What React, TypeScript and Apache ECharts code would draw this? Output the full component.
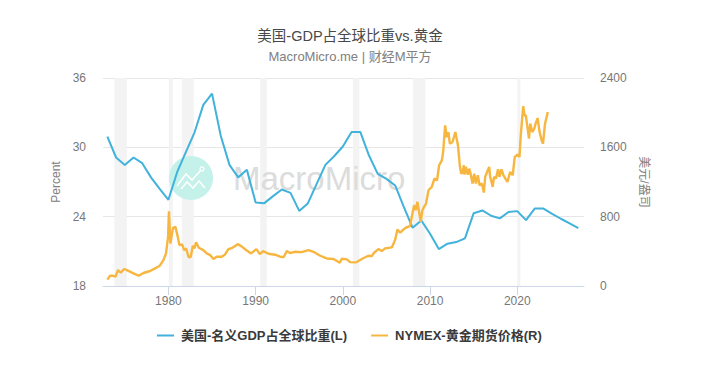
import React, { useEffect, useRef } from "react";
import * as echarts from "echarts";

const titleText = "美国-GDP占全球比重vs.黄金";
const subtitleText = "MacroMicro.me | 财经M平方";
const shareName = "美国-名义GDP占全球比重(L)";
const goldName = "NYMEX-黄金期货价格(R)";
const xTicks = [1980, 1990, 2000, 2010, 2020];

const shareYears = [1973,1974,1975,1976,1977,1978,1979,1980,1981,1982,1983,1984,1985,1986,1987,1988,1989,1990,1991,1992,1993,1994,1995,1996,1997,1998,1999,2000,2001,2002,2003,2004,2005,2006,2007,2008,2009,2010,2011,2012,2013,2014,2015,2016,2017,2018,2019,2020,2021,2022,2023,2024,2025,2026,2027];
const shareValues = [30.93,29.12,28.48,29.12,28.63,27.4,26.4,25.46,27.85,29.58,31.3,33.67,34.65,31.0,28.48,27.4,28.05,25.23,25.17,25.78,26.35,26.06,24.5,25.17,26.84,28.48,29.23,30.07,31.33,31.33,29.29,27.7,27.27,26.7,24.83,23.04,23.67,22.52,21.2,21.66,21.8,22.12,24.3,24.54,24.08,23.85,24.4,24.48,23.7,24.7,24.7,24.25,23.82,23.41,23.0];

const goldYears = [1973,1973.31,1973.62,1973.92,1974.23,1974.53,1974.92,1975.3,1975.99,1976.6,1977.13,1977.9,1978.47,1978.97,1979.43,1979.73,1979.96,1980.06,1980.23,1980.38,1980.54,1980.8,1981.03,1981.26,1981.57,1981.8,1982.03,1982.33,1982.56,1982.8,1982.98,1983.17,1983.48,1984.01,1984.4,1984.78,1985.16,1985.54,1986.12,1986.5,1986.88,1987.34,1987.95,1988.49,1988.87,1989.48,1990.09,1990.48,1990.86,1991.47,1992.23,1992.81,1993.23,1993.57,1993.92,1994.53,1995.29,1996.06,1996.63,1997.4,1998.16,1998.93,1999.65,1999.88,2000.46,2000.83,2001.34,2001.6,2001.98,2002.44,2002.93,2003.32,2003.58,2004.08,2004.47,2004.85,2005.61,2005.99,2006.26,2006.57,2006.87,2007.25,2007.71,2007.98,2008.17,2008.36,2008.55,2008.74,2008.93,2009.12,2009.31,2009.54,2009.82,2010.2,2010.5,2010.8,2011.04,2011.35,2011.5,2011.73,2011.9,2012.1,2012.27,2012.58,2012.9,2013.2,2013.41,2013.56,2013.72,2013.87,2013.95,2014.1,2014.33,2014.49,2014.64,2014.87,2015.06,2015.25,2015.48,2015.67,2015.94,2016.17,2016.32,2016.62,2016.78,2016.89,2017.0,2017.18,2017.33,2017.56,2017.79,2017.95,2018.18,2018.41,2018.64,2018.87,2019.18,2019.48,2019.71,2020.02,2020.25,2020.4,2020.68,2020.83,2020.98,2021.19,2021.34,2021.49,2021.72,2021.95,2022.1,2022.33,2022.56,2022.79,2022.95,2023.18,2023.5];
const goldValues = [73,119,119,107,184,153,196,180,146,119,150,173,203,230,299,376,568,863,491,587,671,683,587,472,480,414,433,330,337,464,433,503,441,414,376,357,311,338,338,364,426,441,483,449,418,376,426,368,403,372,361,338,334,403,380,395,391,414,395,349,318,311,269,315,307,276,272,276,299,326,349,345,384,426,403,434,445,530,652,614,645,675,691,836,932,875,971,856,740,875,913,951,1105,1143,1239,1220,1393,1450,1546,1853,1719,1776,1642,1661,1776,1623,1393,1297,1308,1393,1285,1374,1285,1354,1297,1182,1297,1182,1278,1163,1182,1078,1259,1335,1374,1259,1220,1143,1259,1239,1347,1259,1347,1278,1239,1201,1316,1278,1489,1516,1489,1738,2076,1968,1968,1815,1700,1873,1776,1815,1873,1938,1776,1681,1642,1873,2007];

const recessionStarts = [1973.81,1980.05,1981.54,1990.52,2001.15,2008.03,2020.0];
const recessionEnds = [1975.23,1980.5,1982.9,1991.28,2001.9,2009.47,2020.35];

const BLUE = "#40b2dc";
const GOLD = "#f7b63f";
const FONT = '"Liberation Sans", "Noto Sans CJK SC", sans-serif';

export default function App() {
  const ref = useRef<HTMLDivElement>(null);
  useEffect(() => {
    document.body.style.margin = "0";
    const chart = echarts.init(ref.current!, undefined, { renderer: "svg" });
    chart.setOption({
      animation: false,
      backgroundColor: "#ffffff",
      textStyle: { fontFamily: FONT },
      title: {
        text: titleText,
        subtext: subtitleText,
        left: 345,
        textAlign: "center",
        top: 24,
        itemGap: 7,
        textStyle: { fontSize: 14.5, fontWeight: "normal", color: "#484848", fontFamily: FONT },
        subtextStyle: { fontSize: 13, color: "#808080", fontFamily: FONT },
      },
      legend: {
        left: 152,
        top: 324,
        itemWidth: 17,
        itemHeight: 2,
        itemGap: 24,
        icon: "rect",
        textStyle: { fontSize: 13, fontWeight: "bold", color: "#3a3a3a", fontFamily: FONT, padding: [0, 0, 0, 2] },
        data: [shareName, goldName],
      },
      grid: { left: 103, right: 142, top: 78, height: 208 },
      xAxis: {
        type: "value",
        min: 1972.5,
        max: 2027.65,
        splitLine: { show: false },
        axisLine: { lineStyle: { color: "#ccd6eb" } },
        axisTick: { length: 9, lineStyle: { color: "#ccd6eb" }, customValues: xTicks },
        axisLabel: { customValues: xTicks, formatter: (v: number) => String(v), color: "#777777", fontSize: 12, margin: 9, fontFamily: FONT },
      },
      yAxis: [
        {
          type: "value",
          min: 18,
          max: 36,
          interval: 6,
          name: "Percent",
          nameLocation: "middle",
          nameGap: 40,
          nameTextStyle: { color: "#808080", fontSize: 12, fontFamily: FONT },
          axisLine: { show: false },
          axisTick: { show: false },
          splitLine: { lineStyle: { color: "#e6e6e6" } },
          axisLabel: { color: "#777777", fontSize: 12, margin: 17, fontFamily: FONT },
        },
        {
          type: "value",
          position: "right",
          min: 0,
          max: 2400,
          interval: 800,
          name: "美元/盎司",
          nameLocation: "middle",
          nameGap: 46,
          nameRotate: -90,
          nameTextStyle: { color: "#808080", fontSize: 12, fontFamily: FONT },
          axisLine: { show: false },
          axisTick: { show: false },
          splitLine: { show: false },
          axisLabel: { formatter: (v: number) => String(v), color: "#777777", fontSize: 12, margin: 16, fontFamily: FONT },
        },
      ],
      graphic: [
        { type: "circle", silent: true, z: 1.5, shape: { cx: 191, cy: 178, r: 22 }, style: { fill: "#c4f1e9" } },
        { type: "polyline", silent: true, z: 1.6, shape: { points: [[177, 186], [186, 174], [192, 180], [201, 170]] }, style: { fill: "none", stroke: "#ffffff", lineWidth: 1.6 } },
        { type: "polyline", silent: true, z: 1.6, shape: { points: [[181, 189], [187, 182], [193, 188], [199, 181], [205, 188]] }, style: { fill: "none", stroke: "#ffffff", lineWidth: 1.6 } },
        { type: "circle", silent: true, z: 1.6, shape: { cx: 202, cy: 169, r: 2 }, style: { fill: "#c4f1e9", stroke: "#ffffff", lineWidth: 1.3 } },
        { type: "text", silent: true, z: 1.5, x: 233, y: 178, style: { text: "MacroMicro", fontSize: 33, fontFamily: FONT, fill: "#dcdcdc", verticalAlign: "middle" } },
      ],
      series: [
        {
          name: shareName,
          type: "line",
          yAxisIndex: 0,
          showSymbol: false,
          symbol: "none",
          lineStyle: { color: BLUE, width: 2 },
          itemStyle: { color: BLUE },
          data: shareYears.map((y, i) => [y, shareValues[i]]),
          markArea: {
            silent: true,
            z: 1,
            itemStyle: { color: "#f3f3f3" },
            data: recessionStarts.map((s, i) => [{ xAxis: s }, { xAxis: recessionEnds[i] }]),
          },
        },
        {
          name: goldName,
          type: "line",
          yAxisIndex: 1,
          showSymbol: false,
          symbol: "none",
          lineStyle: { color: GOLD, width: 2.4 },
          itemStyle: { color: GOLD },
          data: goldYears.map((y, i) => [y, goldValues[i]]),
        },
      ],
    });
    return () => chart.dispose();
  }, []);
  return <div ref={ref} style={{ width: 726, height: 372 }} />;
}
